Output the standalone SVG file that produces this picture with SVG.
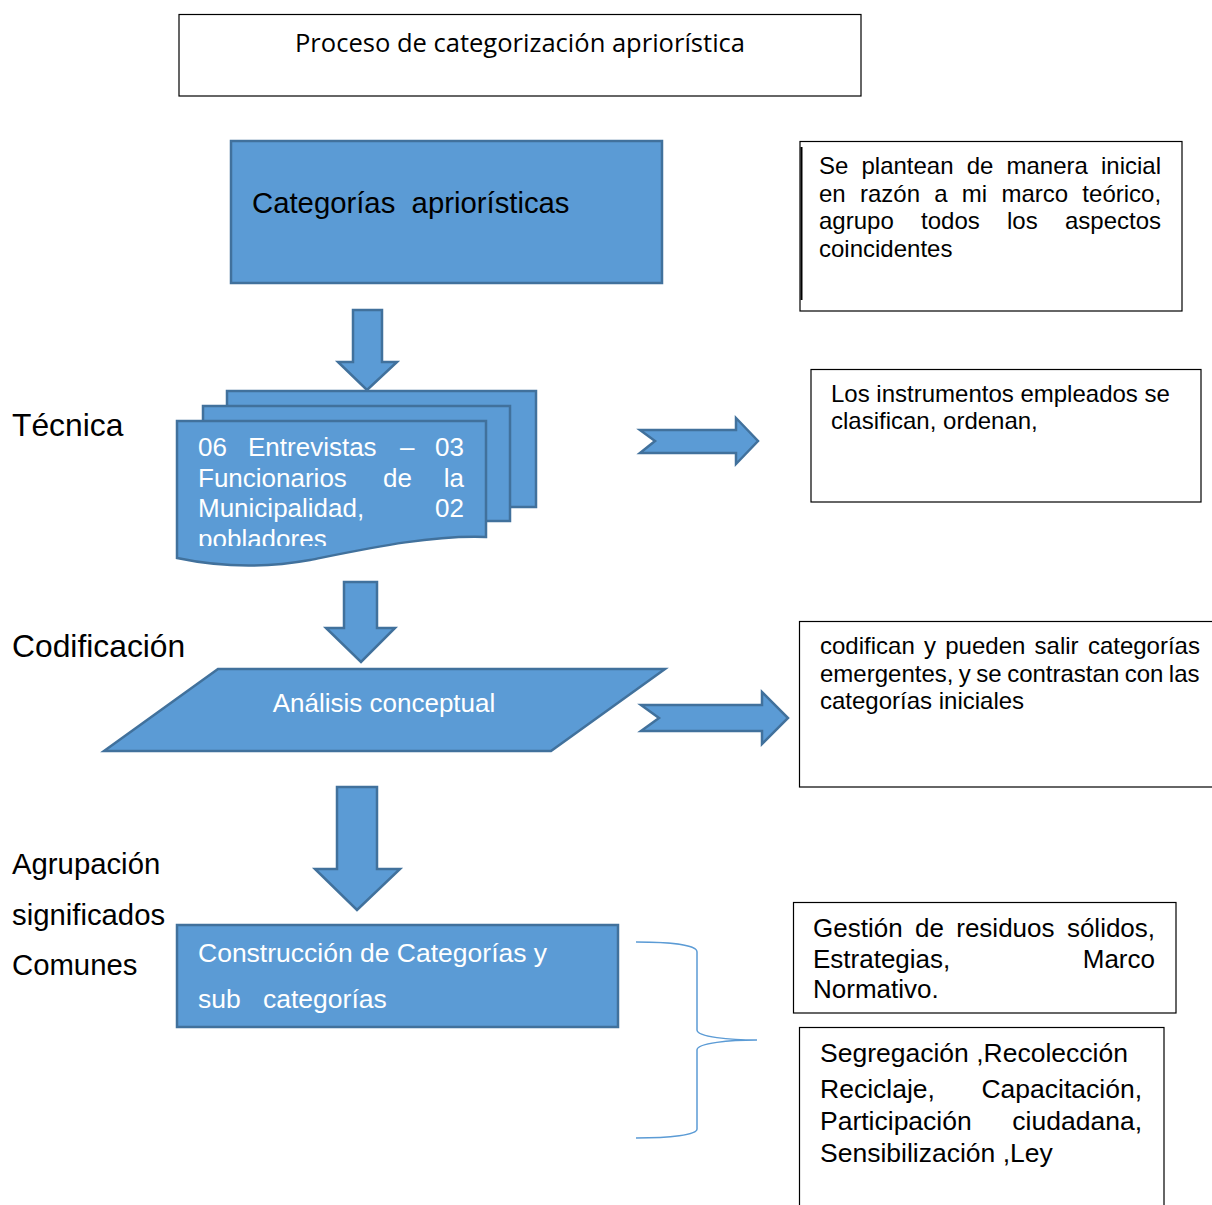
<svg xmlns="http://www.w3.org/2000/svg" width="1212" height="1205" viewBox="0 0 1212 1205">
<style>
.blue{fill:#5B9BD5;stroke:#41719C;stroke-width:2.5;stroke-linejoin:miter}
.box{fill:#fff;stroke:#000;stroke-width:1.2}
.t{font-family:"Liberation Sans",Arial,sans-serif;fill:#000}
.w{font-family:"Liberation Sans",Arial,sans-serif;fill:#fff}
.brace{fill:none;stroke:#5B9BD5;stroke-width:1.5}
</style>
<defs>
<clipPath id="docclip"><rect x="177" y="421" width="309" height="125"/></clipPath>
</defs>
<rect width="1212" height="1205" fill="#fff"/>

<g id="title">
<rect class="box" x="179" y="14.5" width="682" height="81.5"/>
<text x="295" y="52" font-family="'Open Sans','Noto Sans',sans-serif" font-size="25" textLength="450" lengthAdjust="spacingAndGlyphs" fill="#000">Proceso de categorización apriorística</text>
</g>

<g id="categorias">
<rect class="blue" x="231" y="141" width="431" height="142"/>
<text class="t" x="252" y="213" font-size="29.3" xml:space="preserve">Categorías  apriorísticas</text>
</g>

<g id="nota1">
<rect class="box" x="800" y="141.5" width="382" height="169.5"/>
<line x1="801.5" y1="147" x2="801.5" y2="300" stroke="#000" stroke-width="2"/>
<text class="t" x="819" y="174" font-size="24" word-spacing="6.46">Se plantean de manera inicial</text>
<text class="t" x="819" y="201.5" font-size="24" word-spacing="7.59">en razón a mi marco teórico,</text>
<text class="t" x="819" y="229" font-size="24" word-spacing="20.63">agrupo todos los aspectos</text>
<text class="t" x="819" y="256.5" font-size="24">coincidentes</text>
</g>

<g id="tecnica-label">
<text class="t" x="12" y="436" font-size="31.8">Técnica</text>
</g>

<g id="documentos">
<rect class="blue" x="227" y="391" width="309" height="116"/>
<rect class="blue" x="203" y="406" width="307" height="115"/>
<path class="blue" d="M177,421 L486,421 L486,537 C430,535 370,548 310,560 C260,569 215,566 177,558 Z"/>
<g clip-path="url(#docclip)" font-size="26">
<text class="w" x="198" y="456">06</text>
<text class="w" x="248" y="456">Entrevistas</text>
<text class="w" x="400" y="456">–</text>
<text class="w" x="464" y="456" text-anchor="end">03</text>
<text class="w" x="198" y="487">Funcionarios</text>
<text class="w" x="383" y="487">de</text>
<text class="w" x="464" y="487" text-anchor="end">la</text>
<text class="w" x="198" y="517">Municipalidad,</text>
<text class="w" x="464" y="517" text-anchor="end">02</text>
<text class="w" x="198" y="548">pobladores</text>
</g>
</g>

<g id="nota2">
<rect class="box" x="811" y="369.5" width="390" height="132.5"/>
<text class="t" x="831" y="402" font-size="24">Los instrumentos empleados se</text>
<text class="t" x="831" y="429" font-size="24">clasifican, ordenan,</text>
</g>

<g id="codificacion-label">
<text class="t" x="12" y="657" font-size="31.8">Codificación</text>
</g>

<g id="analisis">
<polygon class="blue" points="104,751 218,669 665,669 551,751"/>
<text class="w" x="384" y="712" font-size="26" text-anchor="middle">Análisis conceptual</text>
</g>

<g id="nota3">
<rect class="box" x="799.5" y="621.5" width="420" height="165.5"/>
<text class="t" x="820" y="654" font-size="24" word-spacing="2.6">codifican y pueden salir categorías</text>
<text class="t" x="820" y="682" font-size="24" word-spacing="-1.2">emergentes, y se contrastan con las</text>
<text class="t" x="820" y="709" font-size="24">categorías iniciales</text>
</g>

<g id="agrupacion-label">
<text class="t" x="12" y="874" font-size="29.3">Agrupación</text>
<text class="t" x="12" y="925" font-size="29.3">significados</text>
<text class="t" x="12" y="975" font-size="29.3">Comunes</text>
</g>

<g id="construccion">
<rect class="blue" x="177" y="925" width="441" height="102"/>
<text class="w" x="198" y="962" font-size="26.5">Construcción de Categorías y</text>
<text class="w" x="198" y="1008" font-size="26.5">sub</text>
<text class="w" x="263" y="1008" font-size="26.5">categorías</text>
</g>

<g id="nota4">
<rect class="box" x="793.5" y="902.5" width="382.5" height="110.5"/>
<text class="t" x="813" y="937" font-size="26" word-spacing="5.14">Gestión de residuos sólidos,</text>
<text class="t" x="813" y="967.5" font-size="26">Estrategias,</text>
<text class="t" x="1155" y="967.5" font-size="26" text-anchor="end">Marco</text>
<text class="t" x="813" y="998" font-size="26">Normativo.</text>
</g>

<g id="nota5">
<rect class="box" x="799.5" y="1027.5" width="364.5" height="190"/>
<text class="t" x="820" y="1062" font-size="26.5">Segregación ,Recolección</text>
<text class="t" x="820" y="1098" font-size="26.5">Reciclaje,</text>
<text class="t" x="1142" y="1098" font-size="26.5" text-anchor="end">Capacitación,</text>
<text class="t" x="820" y="1130" font-size="26.5">Participación</text>
<text class="t" x="1142" y="1130" font-size="26.5" text-anchor="end">ciudadana,</text>
<text class="t" x="820" y="1162" font-size="26.5">Sensibilización ,Ley</text>
</g>

<g id="connectors">
<path class="blue" d="M353,310 L382,310 L382,362 L397,362 L367,390 L338,362 L353,362 Z"/>
<path class="blue" d="M640,430 L736,430 L736,418 L758,441 L736,464 L736,453 L640,453 L655,441 Z"/>
<path class="blue" d="M344,582 L377,582 L377,628 L395,628 L361,662 L326,628 L344,628 Z"/>
<path class="blue" d="M641,705 L762,705 L762,692 L788,718 L762,744 L762,731 L641,731 L659,718 Z"/>
<path class="blue" d="M337,787 L377,787 L377,869 L400,869 L357,910 L315,869 L337,869 Z"/>
<path class="brace" d="M636,942 C670,942 697,945 697,952 L697,1030 C697,1037 730,1040 757,1040 C730,1040 697,1043 697,1050 L697,1129 C697,1135 670,1138 636,1138"/>
</g>
</svg>
